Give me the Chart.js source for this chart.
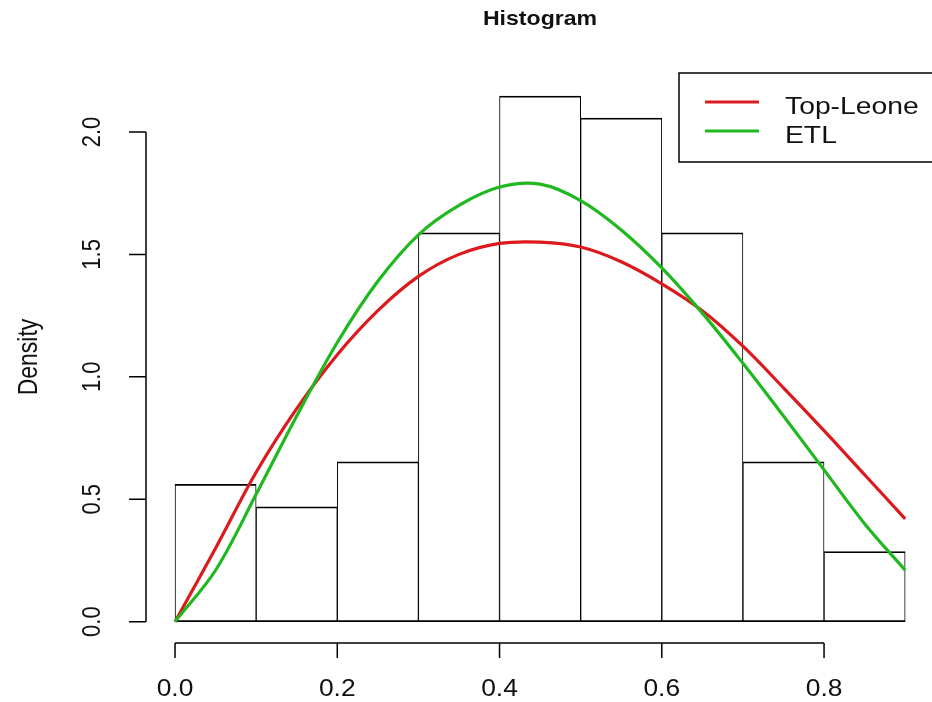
<!DOCTYPE html>
<html>
<head>
<meta charset="utf-8">
<script src="https://cdn.jsdelivr.net/npm/chart.js@4"></script>
<style>
  html, body { margin: 0; padding: 0; background: #fff; }
  #wrap { width: 932px; height: 702px; }
</style>
</head>
<body>
<div id="wrap"><canvas id="c" width="932" height="702"></canvas></div>
<script>
// histogram bins (centres) and densities
const binMids = [0.05, 0.15, 0.25, 0.35, 0.45, 0.55, 0.65, 0.75, 0.85];
const binDensity = [0.561, 0.469, 0.653, 1.588, 2.147, 2.057, 1.588, 0.653, 0.286];

// fitted curves
const curveX = [0, 0.05, 0.1, 0.15, 0.2, 0.25, 0.3, 0.35, 0.4, 0.45, 0.5, 0.55, 0.6, 0.65, 0.7, 0.75, 0.8, 0.85, 0.9];
const topLeone = [0, 0.30, 0.61, 0.87, 1.09, 1.27, 1.41, 1.50, 1.545, 1.55, 1.53, 1.47, 1.38, 1.27, 1.125, 0.955, 0.78, 0.60, 0.42];
const etl = [0, 0.21, 0.52, 0.84, 1.14, 1.39, 1.58, 1.70, 1.775, 1.787, 1.72, 1.60, 1.445, 1.26, 1.055, 0.84, 0.62, 0.40, 0.21];

const xTicks = [0, 0.2, 0.4, 0.6, 0.8];
const yTicks = [0, 0.5, 1.0, 1.5, 2.0];
const seriesNames = ["Top-Leone", "ETL"];
const seriesColors = ["#dc1a1e", "#1fb81f"];

const FONT = '"Liberation Sans", Arial, sans-serif';

// R-style detached axes, title, y label and boxed legend
const rDecor = {
  id: "rDecor",
  afterDraw(chart) {
    const ctx = chart.ctx;
    const xs = chart.scales.x, ys = chart.scales.y;
    ctx.save();
    ctx.strokeStyle = "#000";
    ctx.fillStyle = "#111";
    ctx.lineWidth = 1.5;

    // x axis
    const axY = 643;
    ctx.beginPath();
    ctx.moveTo(xs.getPixelForValue(xTicks[0]), axY);
    ctx.lineTo(xs.getPixelForValue(xTicks[xTicks.length - 1]), axY);
    xTicks.forEach(v => {
      const p = xs.getPixelForValue(v);
      ctx.moveTo(p, axY);
      ctx.lineTo(p, axY + 15);
    });
    ctx.stroke();
    ctx.font = "24px " + FONT;
    ctx.textAlign = "center";
    ctx.textBaseline = "alphabetic";
    xTicks.forEach(v => {
      ctx.save();
      ctx.translate(xs.getPixelForValue(v), 696);
      ctx.scale(1.1, 1);
      ctx.fillText(v.toFixed(1), 0, 0);
      ctx.restore();
    });

    // y axis
    const axX = 146;
    ctx.beginPath();
    ctx.moveTo(axX, ys.getPixelForValue(yTicks[0]));
    ctx.lineTo(axX, ys.getPixelForValue(yTicks[yTicks.length - 1]));
    yTicks.forEach(v => {
      const p = ys.getPixelForValue(v);
      ctx.moveTo(axX, p);
      ctx.lineTo(axX - 17, p);
    });
    ctx.stroke();
    ctx.font = "22px " + FONT;
    yTicks.forEach(v => {
      ctx.save();
      ctx.translate(100, ys.getPixelForValue(v));
      ctx.scale(1.2, 1);
      ctx.rotate(-Math.PI / 2);
      ctx.fillText(v.toFixed(1), 0, 0);
      ctx.restore();
    });

    // y label
    ctx.save();
    ctx.font = "23px " + FONT;
    ctx.translate(37, 357);
    ctx.scale(1.2, 1);
    ctx.rotate(-Math.PI / 2);
    ctx.fillText("Density", 0, 0);
    ctx.restore();

    // title
    ctx.save();
    ctx.font = "bold 21px " + FONT;
    ctx.translate(540, 25);
    ctx.scale(1.1, 1);
    ctx.fillText("Histogram", 0, 0);
    ctx.restore();

    // legend box
    ctx.lineWidth = 1.5;
    ctx.strokeRect(679, 73, 270, 89);
    ctx.lineWidth = 3;
    ctx.textAlign = "left";
    ctx.font = "23px " + FONT;
    seriesNames.forEach((name, i) => {
      const ly = 102 + i * 29;
      ctx.strokeStyle = seriesColors[i];
      ctx.beginPath();
      ctx.moveTo(705, ly);
      ctx.lineTo(759, ly);
      ctx.stroke();
      ctx.save();
      ctx.translate(785, ly + 12);
      ctx.scale(1.23, 1);
      ctx.fillText(name, 0, 0);
      ctx.restore();
    });
    ctx.restore();
  }
};

new Chart(document.getElementById("c"), {
  type: "bar",
  data: {
    datasets: [
      {
        type: "line",
        label: seriesNames[1],
        data: curveX.map((x, i) => ({ x, y: etl[i] })),
        borderColor: seriesColors[1],
        borderWidth: 3.2,
        pointRadius: 0,
        tension: 0.35,
        fill: false,
        order: 1,
      },
      {
        type: "line",
        label: seriesNames[0],
        data: curveX.map((x, i) => ({ x, y: topLeone[i] })),
        borderColor: seriesColors[0],
        borderWidth: 3.2,
        pointRadius: 0,
        tension: 0.35,
        fill: false,
        order: 2,
      },
      {
        type: "bar",
        label: "hist",
        data: binMids.map((x, i) => ({ x, y: binDensity[i] })),
        backgroundColor: "#fff",
        borderColor: "#000",
        borderWidth: { top: 1.8, bottom: 1.8, left: 1, right: 1 },
        borderSkipped: false,
        barPercentage: 1,
        categoryPercentage: 1,
        order: 3,
      },
    ],
  },
  options: {
    responsive: false,
    animation: false,
    layout: { padding: { left: 158.8, right: 10.6, top: 83, bottom: 68.1 } },
    plugins: { legend: { display: false }, tooltip: { enabled: false }, title: { display: false } },
    scales: {
      x: { type: "linear", min: -0.02, max: 0.92, offset: false, display: false },
      y: { type: "linear", min: -0.05, max: 2.2, display: false },
    },
  },
  plugins: [rDecor],
});
</script>
</body>
</html>
